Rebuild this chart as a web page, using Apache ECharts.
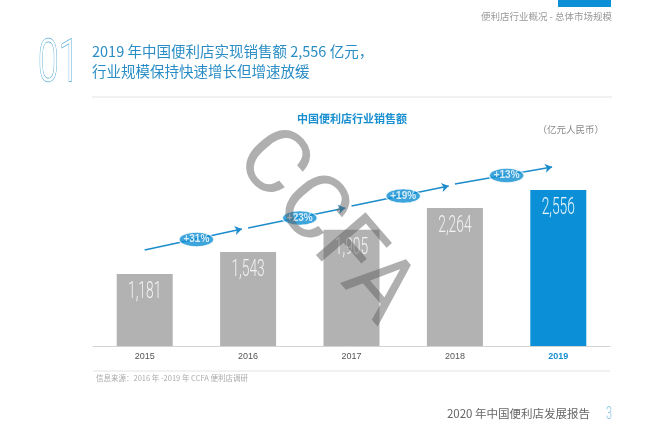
<!DOCTYPE html>
<html>
<head>
<meta charset="utf-8">
<script src="https://cdn.jsdelivr.net/npm/echarts@6/dist/echarts.min.js"></script>
<style>
  html, body { margin: 0; background: #fff; }
  #chart { width: 650px; height: 435px; }
</style>
</head>
<body>
<div id="chart"></div>
<script>
// data
const years = ['2015', '2016', '2017', '2018', '2019'];
const sales = [1181, 1543, 1905, 2264, 2556];
const growthLabels = ['+31%', '+23%', '+19%', '+13%'];
// growth arrow segments (start / end height, in sales units)
const trendStart = [1573, 1934, 2295, 2655];
const trendEnd = [1918, 2262, 2622, 2934];

const BLUE = '#0b8fd6';
const GRAY = '#b2b2b2';
const CJK = '"Noto Sans CJK SC", "Noto Sans", sans-serif';

const chart = echarts.init(document.getElementById('chart'));

const baseGraphics = [
    // top right tab + section label
    { type: 'rect', left: 558, top: 0, shape: { width: 53, height: 7 }, style: { fill: BLUE } },
    { type: 'text', right: 38, top: 12, style: { text: '便利店行业概况 - 总体市场规模', fill: '#999', font: '9.5px ' + CJK } },
    // big "01"
    {
        type: 'text', x: 38, y: 36, scaleX: 0.62,
        style: { text: '01', fill: '#fff', stroke: '#4a a3d3'.replace(' ', ''), lineWidth: 1.3, font: '300 60px Roboto, sans-serif' }
    },
    // headline
    { type: 'text', x: 92, y: 44, style: { text: '2019 年中国便利店实现销售额 2,556 亿元，', fill: '#2a8dc6', font: '14.5px ' + CJK } },
    { type: 'text', x: 92, y: 64, style: { text: '行业规模保持快速增长但增速放缓', fill: '#2a8dc6', font: '14.5px ' + CJK } },
    { type: 'line', shape: { x1: 92, y1: 97, x2: 612, y2: 97 }, style: { stroke: '#e2e2e2', lineWidth: 1 } },
    // chart title + unit
    {
        type: 'text', x: 352, y: 119,
        style: { text: '中国便利店行业销售额', fill: '#1a8fd0', font: 'bold 11px ' + CJK, textAlign: 'center', textVerticalAlign: 'middle' }
    },
    {
        type: 'text', x: 604, y: 129,
        style: { text: '（亿元人民币）', fill: '#888', font: '9.5px ' + CJK, textAlign: 'right', textVerticalAlign: 'middle' }
    },
    // source
    { type: 'line', shape: { x1: 93, y1: 371, x2: 610, y2: 371 }, style: { stroke: '#e4e4e4', lineWidth: 1 } },
    {
        type: 'text', x: 96, y: 378,
        style: { text: '信息来源：2016 年 -2019 年 CCFA 便利店调研', fill: '#aaa', font: '7.5px ' + CJK, textVerticalAlign: 'middle' }
    },
    // footer
    {
        type: 'text', x: 590, y: 414,
        style: { text: '2020 年中国便利店发展报告', fill: '#666', font: '11.5px ' + CJK, textAlign: 'right', textVerticalAlign: 'middle' }
    },
    {
        type: 'text', x: 606, y: 414, scaleX: 0.6,
        style: { text: '3', fill: '#8cc6e4', font: '300 18px Roboto, sans-serif', textVerticalAlign: 'middle' }
    },
    // watermark
    {
        type: 'text', x: 323, y: 228, rotation: -0.86, z: 100,
        style: {
            text: 'CCFA', fill: 'rgba(95,95,95,0.5)',
            font: '400 92px Roboto, sans-serif', textAlign: 'center', textVerticalAlign: 'middle'
        }
    }
];

const option = {
    animation: false,
    backgroundColor: '#fff',
    grid: { left: 93, right: 40, top: 163, bottom: 89 },
    xAxis: [
        {
            type: 'category',
            data: years.map((y, i) => i === years.length - 1
                ? { value: y, textStyle: { color: '#1a8fd0', fontWeight: 'bold' } }
                : y),
            axisLine: { lineStyle: { color: '#d3d3d3', width: 1 } },
            axisTick: { show: false },
            axisLabel: { color: '#555', fontSize: 9, margin: 6, fontFamily: 'Liberation Sans, Arial, sans-serif' }
        },
        // hidden helper axis for the arrows and badges
        { type: 'value', min: -0.5, max: 4.5, show: false }
    ],
    yAxis: { type: 'value', min: 0, max: 3000, show: false, splitLine: { show: false } },
    series: [
        {
            type: 'bar',
            barWidth: 56,
            data: sales.map((v, i) => ({
                value: v,
                itemStyle: { color: i === sales.length - 1 ? BLUE : GRAY }
            }))
        },
        {
            type: 'lines',
            coordinateSystem: 'cartesian2d',
            xAxisIndex: 1,
            yAxisIndex: 0,
            symbol: ['none', 'arrow'],
            symbolSize: 7,
            lineStyle: { color: '#1d8ccc', width: 1.6, opacity: 1, curveness: 0 },
            data: trendStart.map((s, i) => ({ coords: [[i, s], [i + 0.94, trendEnd[i]]] })),
            z: 3
        },
        {
            type: 'scatter',
            xAxisIndex: 1,
            yAxisIndex: 0,
            symbol: 'circle',
            symbolSize: [35, 14],
            itemStyle: { color: '#0e8ed3', borderColor: '#fff', borderWidth: 1 },
            label: {
                show: true,
                position: 'inside',
                formatter: '{b}',
                color: '#fff',
                fontSize: 10,
                fontWeight: 'bold',
                fontFamily: 'Liberation Sans, Arial, sans-serif'
            },
            data: growthLabels.map((g, i) => ({
                name: g,
                value: [i + 0.5, (trendStart[i] + trendEnd[i]) / 2]
            })),
            z: 4
        }
    ],
    graphic: baseGraphics
};

chart.setOption(option);

// value labels in a narrow light face, placed through the chart's own scales
const valueLabels = sales.map((v, i) => {
    const pt = chart.convertToPixel({ xAxisIndex: 0, yAxisIndex: 0 }, [i, v]);
    return {
        type: 'text', x: pt[0], y: pt[1] + 18, scaleX: 0.6, z: 50,
        style: {
            text: v.toLocaleString('en-US'),
            fill: i === sales.length - 1 ? '#eaf6fd' : '#f2f2f2',
            font: '300 23px Roboto, sans-serif',
            textAlign: 'center', textVerticalAlign: 'middle'
        }
    };
});
chart.setOption({ graphic: baseGraphics.concat(valueLabels) });
</script>
</body>
</html>
